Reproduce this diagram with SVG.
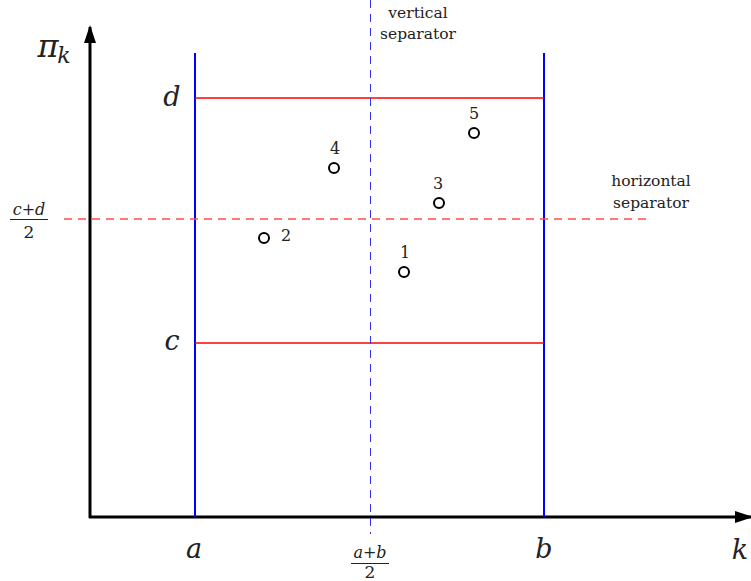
<svg xmlns="http://www.w3.org/2000/svg" width="751" height="581" viewBox="0 0 751 581">
<style>
.lbl{font-size:15.5px;text-anchor:middle;}
.num{font-size:16px;text-anchor:middle;}
.m{font-style:italic;font-size:27px;text-anchor:middle;}
.fr{font-style:italic;font-size:16px;text-anchor:middle;}
.two{font-size:17px;text-anchor:middle;}
.pt{fill:none;stroke:#000;stroke-width:2;}
</style>
<defs>
<marker id="ah" markerWidth="18" markerHeight="12" refX="16" refY="6" orient="auto" markerUnits="userSpaceOnUse">
<path d="M0,0 L18,6 L0,12 Z" fill="#000"/>
</marker>
</defs>
<g id="connectors">
<line x1="90" y1="518" x2="90" y2="27" stroke="#000" stroke-width="3" marker-end="url(#ah)"/>
<line x1="89" y1="517" x2="751" y2="517" stroke="#000" stroke-width="3" marker-end="url(#ah)"/>
<line x1="195" y1="53" x2="195" y2="517" stroke="#0000ff" stroke-width="2"/>
<line x1="544" y1="53" x2="544" y2="517" stroke="#0000ff" stroke-width="2"/>
<line x1="195" y1="98" x2="544" y2="98" stroke="#ff0000" stroke-width="1.5"/>
<line x1="195" y1="343" x2="544" y2="343" stroke="#ff0000" stroke-width="1.5"/>
<line x1="370.5" y1="0" x2="370.5" y2="534" stroke="#3333ee" stroke-width="1" stroke-dasharray="8,6"/>
<line x1="64" y1="219" x2="650" y2="219" stroke="#ff4d4d" stroke-width="1.3" stroke-dasharray="8,6"/>
</g>
<g font-family="'DejaVu Serif', 'Liberation Serif', serif" fill="#222">
<g id="axis-labels">
<text x="48" y="57" style="font-style:italic;font-size:32px;text-anchor:middle">π</text>
<text x="64" y="63" style="font-style:italic;font-size:22px;text-anchor:middle">k</text>
<text class="m" x="172" y="106">d</text>
<text class="m" x="172" y="350">c</text>
<text class="m" x="194" y="558">a</text>
<text class="m" x="544" y="558">b</text>
<text class="m" x="740" y="559">k</text>
</g>
<g id="frac-ab">
<text class="fr" x="370" y="558">a+b</text>
<line x1="351" y1="563.5" x2="389" y2="563.5" stroke="#222" stroke-width="1"/>
<text class="two" x="370" y="578">2</text>
</g>
<g id="frac-cd">
<text class="fr" x="29" y="215">c+d</text>
<line x1="10" y1="219.5" x2="48" y2="219.5" stroke="#222" stroke-width="1"/>
<text class="two" x="29" y="238">2</text>
</g>
<g id="vsep-label">
<text class="lbl" x="418" y="18">vertical</text>
<text class="lbl" x="418" y="39">separator</text>
</g>
<g id="hsep-label">
<text class="lbl" x="651" y="186">horizontal</text>
<text class="lbl" x="651" y="208">separator</text>
</g>
<g id="p1"><circle class="pt" cx="404" cy="272" r="5"/><text class="num" x="405" y="258">1</text></g>
<g id="p2"><circle class="pt" cx="264" cy="238" r="5"/><text class="num" x="286" y="241">2</text></g>
<g id="p3"><circle class="pt" cx="439" cy="203" r="5"/><text class="num" x="438" y="189">3</text></g>
<g id="p4"><circle class="pt" cx="334" cy="168" r="5"/><text class="num" x="335" y="154">4</text></g>
<g id="p5"><circle class="pt" cx="474" cy="133" r="5"/><text class="num" x="474" y="119">5</text></g>
</g>
</svg>
